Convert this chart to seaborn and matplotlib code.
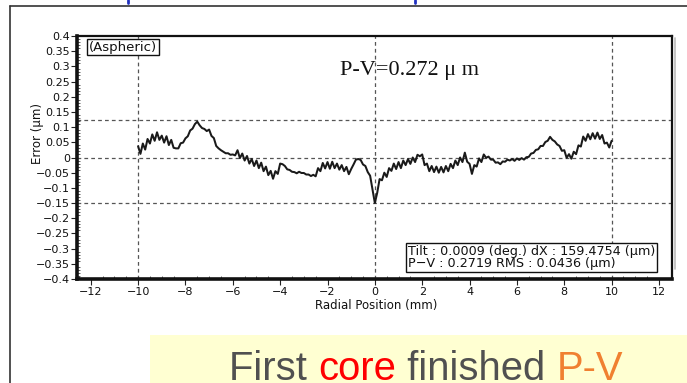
import numpy as np
import matplotlib
matplotlib.use("Agg")
import matplotlib.pyplot as plt
from matplotlib.lines import Line2D
from matplotlib.patches import Rectangle
from matplotlib.ticker import FixedLocator, MultipleLocator
import seaborn as sns

# ---------------- data ----------------
x_start, x_stop = -10.0, 10.0
error_um = [
    0.037, 0.012, 0.046, 0.026, 0.061, 0.046, 0.076, 0.055, 0.083, 0.058,
    0.072, 0.049, 0.070, 0.041, 0.058, 0.032, 0.030, 0.030, 0.047, 0.049,
    0.063, 0.070, 0.089, 0.095, 0.110, 0.118, 0.106, 0.097, 0.094, 0.087,
    0.092, 0.071, 0.064, 0.038, 0.030, 0.024, 0.019, 0.014, 0.014, 0.009,
    0.010, 0.007, 0.024, -0.002, 0.013, -0.010, 0.005, -0.020, -0.005, -0.028,
    -0.010, -0.035, -0.017, -0.045, -0.030, -0.058, -0.044, -0.070, -0.045, -0.054,
    -0.020, -0.022, -0.028, -0.039, -0.041, -0.047, -0.048, -0.052, -0.047, -0.051,
    -0.051, -0.056, -0.056, -0.061, -0.057, -0.062, -0.035, -0.045, -0.018, -0.036,
    -0.015, -0.037, -0.014, -0.035, -0.020, -0.040, -0.025, -0.045, -0.031, -0.055,
    -0.038, -0.023, -0.007, -0.005, -0.008, -0.023, -0.028, -0.048, -0.060, -0.104,
    -0.150, -0.116, -0.071, -0.075, -0.050, -0.064, -0.035, -0.044, -0.020, -0.038,
    -0.015, -0.035, -0.010, -0.025, -0.005, -0.021, 0.000, -0.015, 0.009, 0.004,
    0.010, -0.025, -0.020, -0.045, -0.028, -0.048, -0.030, -0.050, -0.031, -0.049,
    -0.028, -0.045, -0.021, -0.035, -0.010, -0.025, 0.000, -0.015, 0.016, -0.014,
    -0.021, -0.054, -0.025, -0.030, -0.003, -0.015, 0.010, -0.001, 0.003, -0.007,
    -0.007, -0.017, -0.016, -0.022, -0.013, -0.014, -0.007, -0.010, -0.005, -0.011,
    -0.003, -0.008, -0.002, -0.007, 0.001, 0.002, 0.013, 0.015, 0.025, 0.027,
    0.038, 0.038, 0.051, 0.055, 0.068, 0.058, 0.053, 0.043, 0.038, 0.022,
    0.024, -0.001, 0.011, -0.004, 0.019, 0.011, 0.040, 0.036, 0.069, 0.055,
    0.077, 0.060, 0.080, 0.062, 0.082, 0.061, 0.074, 0.046, 0.049, 0.033,
    0.055,
]
radial_mm = np.linspace(x_start, x_stop, len(error_um))

xtick_values = [-12, -10, -8, -6, -4, -2, 0, 2, 4, 6, 8, 10, 12]
xtick_labels = ["\u221212", "\u221210", "\u22128", "\u22126", "\u22124", "\u22122",
                "0", "2", "4", "6", "8", "10", "12"]
ytick_values = [0.4, 0.35, 0.3, 0.25, 0.2, 0.15, 0.1, 0.05, 0, -0.05, -0.1,
                -0.15, -0.2, -0.25, -0.3, -0.35, -0.4]
ytick_labels = ["0.4", "0.35", "0.3", "0.25", "0.2", "0.15", "0.1", "0.05", "0",
                "\u22120.05", "\u22120.1", "\u22120.15", "\u22120.2", "\u22120.25",
                "\u22120.3", "\u22120.35", "\u22120.4"]
grid_x = [-10, 0, 10]
grid_y = [0.122, 0, -0.150]

title_pv = "P\u2010V=0.272 \u03bc m"
tag_text = "(Aspheric)"
info_text = "Tilt : 0.0009 (deg.) dX : 159.4754 (\u03bcm)\nP\u2212V : 0.2719 RMS : 0.0436 (\u03bcm)"
caption_parts = [("First ", "#505050"), ("core", "#FF0000"), (" finished ", "#505050"), ("P-V", "#F08030")]

# ---------------- style ----------------
sns.set_style("white")
plt.rcParams["font.family"] = ["DejaVu Sans"]

W, H = 687, 383
fig = plt.figure(figsize=(W / 100, H / 100), dpi=100)
fig.patch.set_facecolor("white")

L, R, T, B = 77, 672, 36, 279
ax = fig.add_axes([L / W, 1 - B / H, (R - L) / W, (B - T) / H])

sns.lineplot(x=radial_mm, y=error_um, ax=ax, color="#1a1a1a", linewidth=1.45)

ax.set_xlim(-12.58, 12.55)
ax.set_ylim(-0.4, 0.4)

dash = (0, (3, 2.5))
for gx in grid_x:
    ax.axvline(gx, color="#555555", lw=0.9, ls=dash, zorder=0)
for gy in grid_y:
    ax.axhline(gy, color="#555555", lw=0.9, ls=dash, zorder=0)

ax.xaxis.set_major_locator(FixedLocator(xtick_values))
ax.set_xticklabels(xtick_labels)
ax.xaxis.set_minor_locator(MultipleLocator(0.5))
ax.yaxis.set_major_locator(FixedLocator(ytick_values))
ax.set_yticklabels(ytick_labels)
ax.yaxis.set_minor_locator(MultipleLocator(0.01))
ax.tick_params(axis="both", which="major", direction="out", length=4, width=0.8,
               labelsize=8, color="#222222", labelcolor="#111111")
ax.tick_params(axis="x", which="major", pad=2)
ax.tick_params(axis="y", which="major", pad=1)
ax.tick_params(axis="both", which="minor", direction="in", length=2, width=0.6, color="#444444")
ax.tick_params(left=True, bottom=True, which="both")

for side, lw in (("left", 2.6), ("bottom", 2.6), ("top", 1.6), ("right", 1.6)):
    ax.spines[side].set_visible(True)
    ax.spines[side].set_linewidth(lw)
    ax.spines[side].set_color("#111111")

ax.set_xlabel("Radial Position (mm)", fontsize=8.5, color="#111111")
ax.xaxis.set_label_coords(0.502, -(305 - B) / (B - T))
ax.xaxis.label.set_va("center")
ax.set_ylabel("Error (\u03bcm)", fontsize=8.5, color="#111111")
ax.yaxis.set_label_coords(-(L - 37) / (R - L), (B - 134) / (B - T))
ax.yaxis.label.set_va("center")

ax.text((89 - L) / (R - L), (B - 47) / (B - T), tag_text, transform=ax.transAxes,
        fontsize=9.5, ha="left", va="center", color="#111111",
        bbox=dict(boxstyle="square,pad=0.15", fc="white", ec="#111111", lw=1))
ax.text((410 - L) / (R - L), (B - 71) / (B - T), title_pv, transform=ax.transAxes,
        fontsize=16, ha="center", va="center", color="#111111",
        family=["Liberation Serif", "DejaVu Serif"])
ax.text((408 - L) / (R - L), (B - 257.5) / (B - T), info_text, transform=ax.transAxes,
        fontsize=9.2, ha="left", va="center", color="#111111", linespacing=1.0,
        bbox=dict(boxstyle="square,pad=0.15", fc="white", ec="#111111", lw=1))

# shadow line right of the axes
fig.add_artist(Line2D([(R + 2.5) / W] * 2, [1 - (T + 2) / H, 1 - (B - 10) / H],
                      color="#bbbbbb", lw=1.2))

# slide frame
fig.add_artist(Line2D([10 / W, 1.0], [1 - 6 / H] * 2, color="#333333", lw=1.2))
fig.add_artist(Line2D([10 / W] * 2, [1 - 6 / H, 0], color="#333333", lw=1.2))
for bx in (128, 415):
    fig.add_artist(Line2D([bx / W] * 2, [1.0, 1 - 3 / H], color="#2030c0", lw=2))

# caption box
fig.add_artist(Rectangle((150 / W, 0), 1 - 150 / W, (H - 335) / H,
                         transform=fig.transFigure, fc="#FFFFD2", ec="none", zorder=0))
fig.canvas.draw()
renderer = fig.canvas.get_renderer()
xpos = 229
for txt, col in caption_parts:
    t = fig.text(xpos / W, 1 - 380 / H, txt, fontsize=28.8, color=col,
                 ha="left", va="baseline", family=["Liberation Sans", "DejaVu Sans"])
    bb = t.get_window_extent(renderer=renderer)
    xpos = bb.x1

fig.savefig("out.png", dpi=100)
